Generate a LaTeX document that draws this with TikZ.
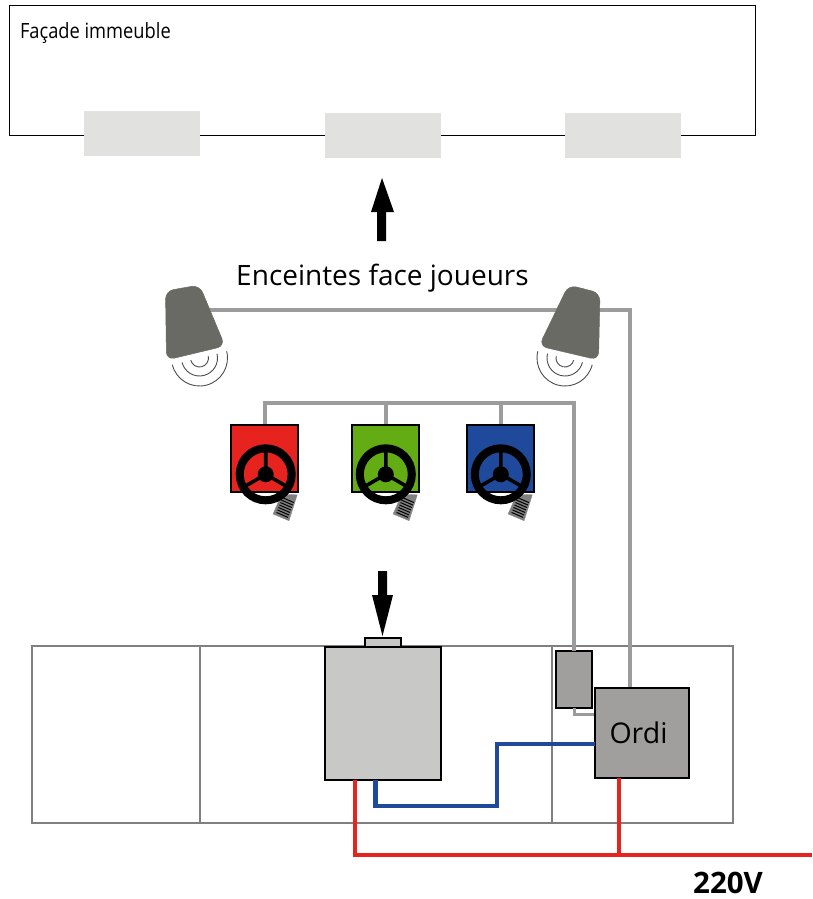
\documentclass[tikz,border=0pt]{standalone}
\usepackage{fontspec}
\setmainfont{Open Sans}
\usetikzlibrary{calc}
\definecolor{cable}{HTML}{9C9C9C}
\definecolor{frameg}{HTML}{808080}
\definecolor{spk}{HTML}{6A6A64}
\definecolor{winf}{HTML}{E1E1E0}
\definecolor{machf}{HTML}{C8C8C7}
\definecolor{ordif}{HTML}{A09F9E}
\definecolor{rouge}{HTML}{E6231E}
\definecolor{vert}{HTML}{63AC14}
\definecolor{bleu}{HTML}{1F4A9B}
\tikzset{
  x=1pt,y=1pt,
  every node/.style={outer sep=0pt},
  win/.style={fill=winf,draw=none,minimum width=116pt,minimum height=45pt,inner sep=0pt},
  graycable/.style={draw=cable,line width=3.4pt,line join=miter},
  seat/.style={draw=black,line width=1.1pt,minimum width=67pt,minimum height=67pt,inner sep=0pt},
  devbox/.style={draw=black,line width=1.2pt,inner sep=0pt},
  frameline/.style={draw=frameg,line width=1.2pt},
  rings/.style={draw=black!70!white,line width=0.9pt},
  speaker/.style={fill=spk,draw=spk,line width=0.5pt,rounded corners=8pt},
  wire/.style={line width=4.4pt,line join=miter},
  lab/.style={inner sep=0pt,text=black,anchor=base},
  bigarrow/.style={fill=black,draw=none},
  pics/volant/.style={code={
    \fill[frameg,draw=black!50,line width=0.3pt] (16,-20) -- (31.5,-20.5) -- (23.3,-46.4) -- (7.3,-39.7) -- cycle;
    \foreach \t in {0.12,0.25,0.38,0.51,0.64,0.77,0.90}{
      \draw[black,line width=1pt] ($(17.5,-21)!\t!(10,-40)$) -- ++(11.5,-5);
    }
    \draw[black,line width=8pt] (0,0) circle (26pt);
    \fill[black] (0,0) circle (8pt);
    \draw[black,line width=3.6pt] (0,0) -- (0,26) (0,0) -- (-22.5,-13) (0,0) -- (22.5,-13);
  }}
}
\begin{document}
\begin{tikzpicture}
\useasboundingbox (0,0) rectangle (812,-899);
% facade
\node[draw=black,line width=1pt,minimum width=746.5pt,minimum height=129.5pt,inner sep=0pt,anchor=north west] (facade) at (9.3,-5.5) {};
\node[lab,anchor=base west,xscale=0.87,font=\fontsize{21}{24}\selectfont] (ftxt) at (20,-38) {Façade immeuble};
\node[win,anchor=north west] (w1) at (84,-111) {};
\node[win,anchor=north west] (w2) at (325,-113) {};
\node[win,anchor=north west] (w3) at (565,-113) {};
% arrows
\fill[bigarrow] (377,-241) -- (386,-241) -- (386,-212) -- (394,-212) -- (382,-178) -- (371,-212) -- (377,-212) -- cycle;
\fill[bigarrow] (378,-571) -- (387,-571) -- (387,-595) -- (393,-595) -- (382.5,-636) -- (372,-595) -- (378,-595) -- cycle;
\node[lab,font=\fontsize{28}{30}\selectfont] (enc) at (382.5,-285) {Enceintes face joueurs};
% cables
\coordinate (s1c) at (205,-310);
\coordinate (s2c) at (630,-310);
\coordinate (c1) at (265,-403);
\coordinate (c2) at (574,-403);
\coordinate (c3) at (386,-403);
\coordinate (c4) at (501,-403);
% frames
\node[frameline,minimum width=168pt,minimum height=177pt,inner sep=0pt,anchor=north west] (f1) at (32,-646) {};
\node[frameline,minimum width=352pt,minimum height=177pt,inner sep=0pt,anchor=north west] (f2) at (200,-646) {};
\node[frameline,minimum width=181pt,minimum height=177pt,inner sep=0pt,anchor=north west] (f3) at (552,-646) {};
% devices
\node[devbox,fill=machf,minimum width=36pt,minimum height=10pt,anchor=south west] (tab) at (365,-648) {};
\node[devbox,fill=machf,minimum width=116pt,minimum height=133pt,anchor=north west] (mach) at (325,-647) {};
\node[devbox,fill=ordif,minimum width=36pt,minimum height=57pt,anchor=north west] (amp) at (556,-651) {};
% cables drawn before Ordi
\draw[graycable] (s1c) -- (s2c) -- (630,-688);
\draw[graycable] (c1 |- 0,-425) -- (c1) -- (c2) -- (amp.north -| c2);
\draw[graycable] (c3) -- (386,-425);
\draw[graycable] (c4) -- (501,-425);
\draw[graycable] (574.5,-708) -- (574.5,-714.5) -- (596,-714.5);
\node[devbox,fill=ordif,minimum width=94pt,minimum height=90pt,anchor=north west] (ordi) at (595,-688) {};
\node[lab,font=\fontsize{28.5}{30}\selectfont] (otxt) at (638.5,-743) {Ordi};
% wires
\draw[wire,draw=bleu] (375.5,-780) -- (375.5,-806) -- (497,-806) -- (497,-744) -- (595,-744);
\draw[wire,draw=rouge] (355,-780) -- (355,-855) -- (812,-855);
\draw[wire,draw=rouge] (619,-778) -- (619,-855);
\node[lab,font=\bfseries\fontsize{29.5}{31}\selectfont] (v220) at (728,-893) {220V};
% speakers
\foreach \r in {9,18,28}{\draw[rings] (199.5,-358)++(194:\r) arc (194:374:\r);}
\foreach \r in {9,18,28}{\draw[rings] (565,-358)++(166:\r) arc (166:346:\r);}
\fill[speaker] (165.5,-291) -- (199.5,-285) -- (225,-346) -- (166.5,-360) -- cycle;
\fill[speaker] (568.5,-285) -- (600,-293) -- (598.5,-360) -- (539,-346) -- cycle;
% seats
\node[seat,fill=rouge,anchor=north west] (sr) at (231,-425) {};
\node[seat,fill=vert,anchor=north west] (sg) at (352,-425) {};
\node[seat,fill=bleu,anchor=north west] (sb) at (467,-425) {};
\pic at (265.7,-474.3) {volant};
\pic at (385.8,-474.3) {volant};
\pic at (500.8,-474.3) {volant};
\end{tikzpicture}
\end{document}
